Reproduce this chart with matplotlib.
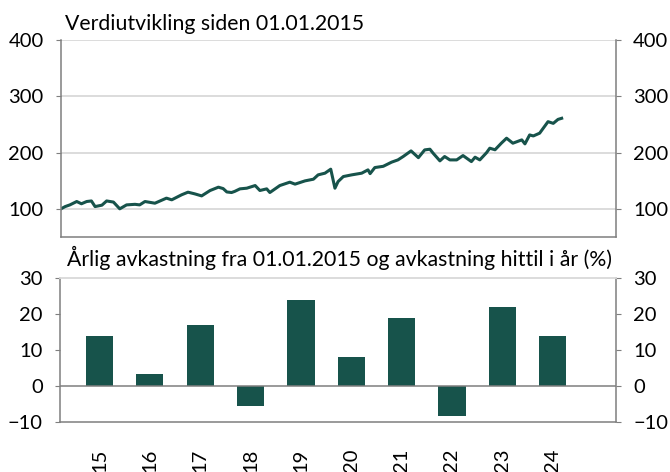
import matplotlib.pyplot as plt

plt.rcParams['font.family'] = ['Lato', 'DejaVu Sans']

# value development since 01.01.2015 (decimal year, index)
line_t = [2015.00, 2015.08, 2015.17, 2015.30, 2015.39, 2015.49, 2015.58, 2015.65, 2015.78, 2015.87,
          2016.00, 2016.12, 2016.25, 2016.41, 2016.50, 2016.60, 2016.79, 2017.01, 2017.11, 2017.30,
          2017.42, 2017.55, 2017.68, 2017.84, 2018.00, 2018.09, 2018.16, 2018.25, 2018.31, 2018.41,
          2018.54, 2018.70, 2018.79, 2018.92, 2018.98, 2019.17, 2019.36, 2019.46, 2019.65, 2019.81,
          2019.90, 2020.03, 2020.14, 2020.22, 2020.28, 2020.38, 2020.54, 2020.73, 2020.85, 2020.89,
          2020.98, 2021.14, 2021.30, 2021.42, 2021.52, 2021.67, 2021.81, 2021.93, 2022.03, 2022.09,
          2022.22, 2022.31, 2022.41, 2022.54, 2022.66, 2022.82, 2022.89, 2022.98, 2023.11, 2023.17,
          2023.27, 2023.39, 2023.49, 2023.61, 2023.78, 2023.84, 2023.93, 2024.00, 2024.12, 2024.28,
          2024.38, 2024.47, 2024.54]
line_v = [100, 104, 107, 113, 109, 113, 114, 104, 106.5, 114,
          112, 100, 107, 108, 107, 113, 110, 119, 116, 125,
          129.6, 126.6, 123, 132.5, 138.5, 136, 130, 129, 131, 135.5,
          136.7, 141.4, 132.6, 135.5, 129, 141.4, 147.4, 143.9, 149.7, 152.7,
          160.4, 163.4, 170.5, 136.7, 148.5, 157.4, 160.4, 163.4, 169.3, 162.6,
          173.4, 175.6, 183, 187, 193, 203, 191, 204.8, 206, 199,
          185.3, 193, 187, 187, 194.7, 184, 191.8, 187, 200, 207.8,
          205, 216.7, 225.6, 216.7, 222.6, 215.5, 231.4, 229.6, 234.5, 255,
          252, 259, 261]

# annual return (%)
years = ['15', '16', '17', '18', '19', '20', '21', '22', '23', '24']
returns = [14, 3.3, 17, -5.5, 24, 8, 19, -8.3, 22, 14]

green = '#17534b'
spine_col = '#7f7f7f'
grid_col = '#d9d9d9'

fig = plt.figure(figsize=(6.7, 4.72), dpi=100)
ax1 = fig.add_axes([0.091, 0.498, 0.828, 0.417])
ax2 = fig.add_axes([0.0896, 0.106, 0.830, 0.305])

# top panel
ax1.plot(line_t, line_v, color=green, lw=2.2, solid_joinstyle='round')
ax1.set_xlim(2015.0, 2025.57)
ax1.set_ylim(50, 400)
ax1.set_yticks([100, 200, 300, 400])
ax1.yaxis.grid(True, color=grid_col, lw=1.3)
ax1.set_axisbelow(True)
ax1.set_xticks([])
ax1.spines['top'].set_visible(False)
for s in ['left', 'right', 'bottom']:
    ax1.spines[s].set_color(spine_col)
    ax1.spines[s].set_linewidth(1.1)
ax1.tick_params(axis='y', which='both', left=True, right=True, labelleft=True,
                labelright=True, direction='out', length=3.5, color=spine_col,
                labelsize=14.5, pad=9)
ax1.set_title('Verdiutvikling siden 01.01.2015', loc='left', fontsize=15.3, pad=7, x=0.008)

# bottom panel
pos = list(range(len(years)))
ax2.bar(pos, returns, width=0.54, color=green)
ax2.axhline(0, color=spine_col, lw=1.1)
ax2.set_xlim(-0.785, 10.26)
ax2.set_ylim(-10, 30)
ax2.set_yticks([-10, 0, 10, 20, 30])
ax2.set_xticks(pos)
ax2.set_xticklabels(years, rotation=90, fontsize=14.5)
ax2.tick_params(axis='x', length=0, pad=19)
ax2.spines['top'].set_color(grid_col)
ax2.spines['top'].set_linewidth(1.3)
for s in ['left', 'right', 'bottom']:
    ax2.spines[s].set_color(spine_col)
    ax2.spines[s].set_linewidth(1.1)
ax2.tick_params(axis='y', which='both', left=True, right=True, labelleft=True,
                labelright=True, direction='out', length=3.5, color=spine_col,
                labelsize=14.5, pad=9)
ax2.set_title('Årlig avkastning fra 01.01.2015 og avkastning hittil i år (%)',
              loc='left', fontsize=15.3, pad=9, x=0.012)

fig.savefig('out.png', dpi=100)
